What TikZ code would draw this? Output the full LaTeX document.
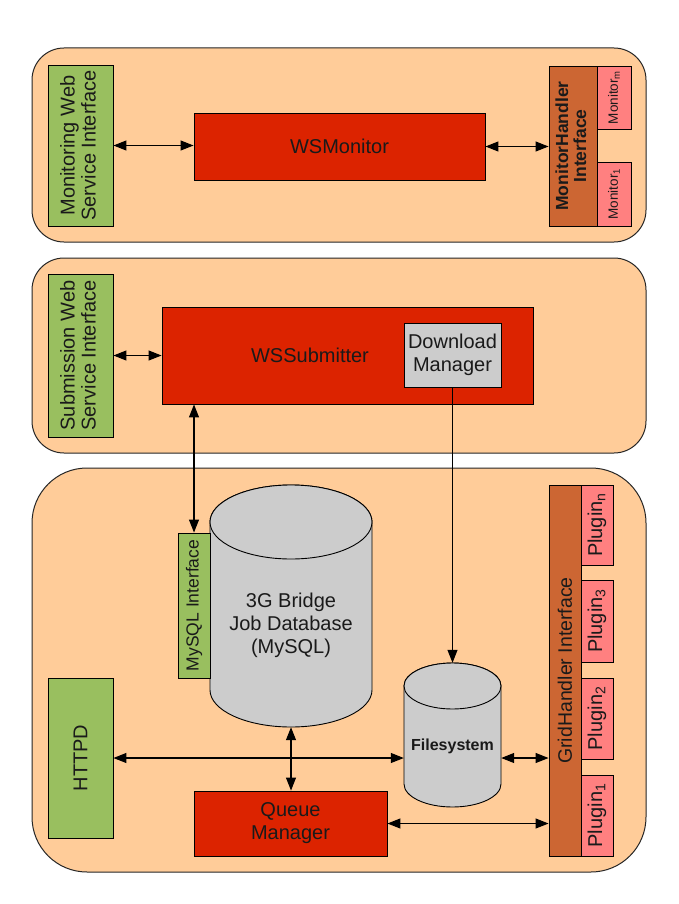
\documentclass[tikz,border=0pt]{standalone}
\usepackage{fontspec}
\setmainfont{Liberation Sans}
\usetikzlibrary{arrows.meta}
\definecolor{panelc}{HTML}{FFCC99}
\definecolor{greenc}{HTML}{99BF5F}
\definecolor{redc}{HTML}{DC2300}
\definecolor{brownc}{HTML}{CC6633}
\definecolor{pinkc}{HTML}{FF8080}
\definecolor{grayc}{HTML}{CCCCCC}
\definecolor{inkc}{HTML}{1A1A1A}
\begin{document}
\begin{tikzpicture}[x=1pt,y=-1pt,
  panelbox/.style={draw=black!85,fill=panelc,line width=1pt},
  blk/.style={draw=black,line width=0.9pt,inner sep=0pt,text=inkc,font=\fontsize{20}{23}\selectfont,align=center},
  greenbox/.style={blk,fill=greenc},
  redbox/.style={blk,fill=redc},
  brownbox/.style={blk,fill=brownc},
  pinkbox/.style={blk,fill=pinkc},
  graybox/.style={blk,fill=grayc},
  cyl/.style={draw=black,line width=0.9pt,fill=grayc},
  lbl/.style={inner sep=0pt,text=inkc,font=\fontsize{20}{23}\selectfont,align=center},
  conn/.style={line width=1.1pt,{Triangle[length=13pt,width=10pt]}-{Triangle[length=13pt,width=10pt]}},
  conn1/.style={line width=1.1pt,-{Triangle[length=13pt,width=10pt]}}
]
\useasboundingbox (0,0) rectangle (678,904);
% panels
\draw[panelbox,rounded corners=32pt] (32,48) rectangle (646,242);
\draw[panelbox,rounded corners=32pt] (32,258) rectangle (646,453);
\draw[panelbox,rounded corners=55pt] (32,468) rectangle (646,872);

% ---- panel 1
\node[greenbox,minimum width=65pt,minimum height=161pt] (mwi) at (80.5,145.5)
  {\rotatebox{90}{\begin{tabular}{@{}c@{}}Monitoring Web\\[-2pt]Service Interface\end{tabular}}};
\node[redbox,minimum width=291pt,minimum height=67pt] (wsm) at (339.5,146.5) {WSMonitor};
\node[brownbox,minimum width=48pt,minimum height=160pt,font=\bfseries\fontsize{17.5}{20}\selectfont] (mh) at (573,146)
  {\rotatebox{90}{\begin{tabular}{@{}c@{}}MonitorHandler\\[-2pt]Interface\end{tabular}}};
\node[pinkbox,minimum width=34pt,minimum height=63pt,font=\fontsize{13.5}{16}\selectfont] (monm) at (614,97.5)
  {\rotatebox{90}{Monitor\textsubscript{m}}};
\node[pinkbox,minimum width=34pt,minimum height=64pt,font=\fontsize{13.5}{16}\selectfont] (mon1) at (614,194)
  {\rotatebox{90}{Monitor\textsubscript{1}}};
\draw[conn] (mwi.east) -- (mwi.east -| wsm.west);
\draw[conn] (wsm.east) -- (wsm.east -| mh.west);

% ---- panel 2
\node[greenbox,minimum width=65pt,minimum height=163pt] (swi) at (80.5,355.5)
  {\rotatebox{90}{\begin{tabular}{@{}c@{}}Submission Web\\[-2pt]Service Interface\end{tabular}}};
\node[redbox,minimum width=371pt,minimum height=97pt] (wss) at (347.5,355.5) {};
\node[lbl] (wsslabel) at (310,355) {WSSubmitter};
\node[graybox,minimum width=97pt,minimum height=64pt] (dm) at (452.5,355) {Download\\Manager};
\draw[conn] (swi.east) -- (swi.east -| wss.west);

% ---- panel 3
% database cylinder
\node[minimum width=162pt,minimum height=242pt,inner sep=0pt] (db) at (291,606) {};
\draw[cyl] (210,522) -- (210,690) arc[start angle=180,end angle=360,x radius=81pt,y radius=37pt]
  -- (372,522) arc[start angle=0,end angle=180,x radius=81pt,y radius=37pt] -- cycle;
\draw[cyl] (291,522) ellipse [x radius=81pt,y radius=37pt];
\node[lbl] (dblabel) at (291,625) {3G Bridge\\Job Database\\(MySQL)};
\node[greenbox,minimum width=32pt,minimum height=145pt,font=\fontsize{17.5}{20}\selectfont] (mysql) at (194,605.5)
  {\rotatebox{90}{MySQL Interface}};
% filesystem cylinder
\node[minimum width=97pt,minimum height=144pt,inner sep=0pt] (fs) at (452.5,735) {};
\draw[cyl] (404,686) -- (404,784) arc[start angle=180,end angle=360,x radius=48.5pt,y radius=23pt]
  -- (501,686) arc[start angle=0,end angle=180,x radius=48.5pt,y radius=23pt] -- cycle;
\draw[cyl] (452.5,686) ellipse [x radius=48.5pt,y radius=23pt];
\node[lbl,font=\bfseries\fontsize{16}{19}\selectfont] (fslabel) at (452.5,746) {Filesystem};

\node[greenbox,minimum width=65pt,minimum height=160pt] (httpd) at (80.5,758)
  {\rotatebox{90}{HTTPD}};
\node[redbox,minimum width=193pt,minimum height=65pt] (qm) at (290.5,823.5) {Queue\\Manager};
\node[brownbox,minimum width=32pt,minimum height=371pt,font=\fontsize{19.5}{22}\selectfont] (grid) at (565,670.5)
  {\rotatebox{90}{GridHandler Interface}};
\node[pinkbox,minimum width=32pt,minimum height=80pt,font=\fontsize{20}{22}\selectfont] (plugn) at (597,525)
  {\rotatebox{90}{Plugin\textsubscript{n}}};
\node[pinkbox,minimum width=32pt,minimum height=82pt,font=\fontsize{20}{22}\selectfont] (plug3) at (597,621)
  {\rotatebox{90}{Plugin\textsubscript{3}}};
\node[pinkbox,minimum width=32pt,minimum height=81pt,font=\fontsize{20}{22}\selectfont] (plug2) at (597,718.5)
  {\rotatebox{90}{Plugin\textsubscript{2}}};
\node[pinkbox,minimum width=32pt,minimum height=81pt,font=\fontsize{20}{22}\selectfont] (plug1) at (597,815.5)
  {\rotatebox{90}{Plugin\textsubscript{1}}};

% connectors
\draw[conn] (mysql.north) -- (mysql.north |- wss.south);
\draw[conn1] (dm.south) -- (fs.north);
\draw[conn] (httpd.east) -- (httpd.east -| fs.west);
\draw[conn] (fs.east |- httpd.east) -- (httpd.east -| grid.west);
\draw[conn] (db.south) -- (db.south |- qm.north);
\draw[conn] (qm.east) -- (qm.east -| grid.west);
\end{tikzpicture}
\end{document}
